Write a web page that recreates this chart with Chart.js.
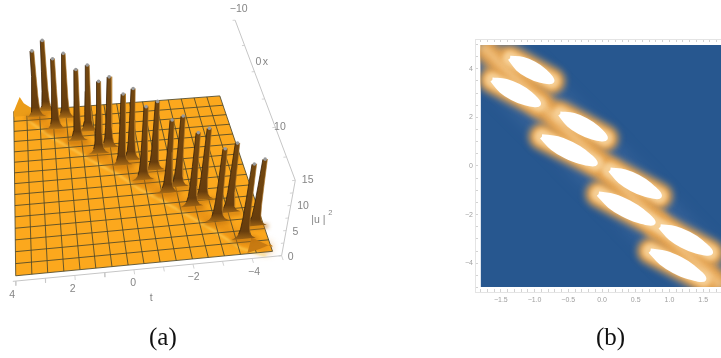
<!DOCTYPE html>
<html>
<head>
<meta charset="utf-8">
<title>Surface and density</title>
<script src="https://cdn.jsdelivr.net/npm/chart.js@4"></script>
<style>
	html, body { margin: 0; padding: 0; background: #fff; overflow: hidden; width: 721px; height: 358px; }
	canvas { position: absolute; top: 0; filter: blur(0.45px); }
	#surface { left: 0; }
	#density { left: 440px; }
	.caption { position: absolute; top: 323px; font: 25px "Liberation Serif", serif; color: #111; }
</style>
</head>
<body>
<canvas id="surface" width="340" height="358"></canvas>
<canvas id="density" width="320" height="358"></canvas>
<div class="caption" style="left:149px">(a)</div>
<div class="caption" style="left:596px">(b)</div>
<script>
// --------------------------- Panel (a) data ---------------------------
const meshT = [4, 3.45, 2.91, 2.36, 1.81, 1.27, 0.72, 0.17, -0.37, -0.92, -1.47, -2.02, -2.56, -3.11, -3.66, -4.2, -4.75];
const meshX = [18, 16.13, 14.27, 12.4, 10.53, 8.67, 6.8, 4.93, 3.07, 1.2, -0.67, -2.53, -4.4, -6.27, -8.13, -10];

// spike positions and heights
const spikeT = [3.06, 2.63, 2.28, 1.84, 1.44, 0.97, 0.66, 0.24, -0.16, -0.55, -0.87, -1.35, -1.67, -2.1, -2.43, -2.87, -3.18, -3.68, -3.92, -4.44];
const spikeX = [-8.7, -9.6, -6.1, -8.0, -3.6, -5.2, -0.96, -1.9, 1.45, 0.72, 4.34, 2.8, 6.9, 6.04, 9.55, 8.56, 12.34, 11.1, 15.6, 13.7];
const spikeTop = [13.1, 14.1, 14, 12.9, 14.2, 13.2, 14.4, 14.1, 14.2, 14.3, 14.6, 13.7, 14.5, 14.1, 14.7, 14.2, 14.4, 13.8, 14.9, 13.3];
const profileZ = [0, 0.4, 1, 2, 4, 8];
const profileHalfT = [0.42, 0.28, 0.2, 0.155, 0.125, 0.1];

const trailT = [3.3, 2.28, 1.44, 0.66, -0.16, -0.87, -1.67, -2.43, -3.18, -3.92, -4.7];
const trailX = [-9.6, -5.7, -3.2, -0.5, 1.9, 4.8, 7.3, 10, 12.8, 16, 17.6];

const farHumpT = [4, 3.85, 3.7, 3.55, 3.3, 3.0];
const farHumpZ = [0, 1.4, 2.8, 1.5, 0.6, 0.2];
const cornerT = [-3.9, -4.3, -4.65, -4.75];
const cornerZ = [0, 0.6, 1.3, 0.9];

const tTicks = [4, 3, 2, 1, 0, -1, -2, -3, -4, -5];
const tLabels = ["4", "", "2", "", "0", "", "\u22122", "", "\u22124", ""];
const xTicks = [-10, -5, 0, 5, 10, 15];
const xLabels = ["\u221210", "", "0", "", "10", ""];
const zTicks = [0, 2.5, 5, 7.5, 10, 12.5, 15];
const zLabels = ["0", "", "5", "", "10", "", "15"];

// --------------------------- Panel (b) data ---------------------------
const blobT = [
	[-1.363, -1.172, -1.007, -0.862, -0.743, -0.934, -1.099, -1.244, -1.363],
	[-1.626, -1.419, -1.238, -1.077, -0.942, -1.149, -1.33, -1.491, -1.626],
	[-0.62, -0.417, -0.24, -0.082, 0.049, -0.154, -0.332, -0.489, -0.62],
	[-0.892, -0.658, -0.45, -0.262, -0.1, -0.334, -0.542, -0.73, -0.892],
	[0.123, 0.341, 0.533, 0.705, 0.851, 0.633, 0.441, 0.269, 0.123],
	[-0.05, 0.188, 0.4, 0.592, 0.758, 0.52, 0.308, 0.116, -0.05],
	[0.866, 1.088, 1.284, 1.459, 1.609, 1.387, 1.192, 1.016, 0.866],
	[0.718, 0.952, 1.16, 1.348, 1.51, 1.276, 1.068, 0.88, 0.718],
];
const blobX = [
	[4.432, 4.389, 4.2, 3.922, 3.498, 3.542, 3.73, 4.009, 4.432],
	[3.539, 3.482, 3.28, 2.988, 2.551, 2.608, 2.81, 3.102, 3.539],
	[2.14, 2.08, 1.875, 1.58, 1.14, 1.2, 1.405, 1.7, 2.14],
	[1.206, 1.122, 0.894, 0.575, 0.111, 0.195, 0.424, 0.742, 1.206],
	[-0.165, -0.243, -0.465, -0.778, -1.235, -1.158, -0.935, -0.623, -0.165],
	[-1.152, -1.257, -1.508, -1.848, -2.333, -2.228, -1.978, -1.637, -1.152],
	[-2.498, -2.576, -2.798, -3.111, -3.568, -3.491, -3.268, -2.956, -2.498],
	[-3.498, -3.596, -3.839, -4.172, -4.65, -4.552, -4.309, -3.976, -3.498],
];
const ridgeT = [-1.8, -1.2, -0.4, 0.42, 1.16, 1.8];
const ridgeX = [5, 3.37, 1.15, -1.19, -3.37, -5];

const densityMajorT = [-1.5, -1, -0.5, 0, 0.5, 1, 1.5];
const densityMinorT = [-1.8, -1.7, -1.6, -1.5, -1.4, -1.3, -1.2, -1.1, -1, -0.9, -0.8, -0.7, -0.6, -0.5, -0.4, -0.3, -0.2, -0.1, 0, 0.1, 0.2, 0.3, 0.4, 0.5, 0.6, 0.7, 0.8, 0.9, 1, 1.1, 1.2, 1.3, 1.4, 1.5, 1.6, 1.7, 1.8];
const densityMajorX = [-4, -2, 0, 2, 4];
const densityMinorX = [-5, -4.5, -4, -3.5, -3, -2.5, -2, -1.5, -1, -0.5, 0, 0.5, 1, 1.5, 2, 2.5, 3, 3.5, 4, 4.5, 5];

// --------------------------- Projection for panel (a) ---------------------------
function project(t, x, z) {
	const u = (4 - t) / 8.75;
	const v = (18 - x) / 28;
	const d = (1.12 * v) / (1 + 0.12 * v);
	let px = (1 - d) * (12 + 263 * u) + d * (10 + 211 * u);
	let py = (1 - d) * (278 - 25 * u) + d * (110 - 16 * u);
	px += ((px - 100) * 0.076 * z) / 15;
	py -= (77 * z) / 15;
	return { x: px, y: py };
}

// blur set per dataset, see dataset.blur
const blurPlugin = {
	id: "blurPlugin",
	beforeDatasetDraw(chart, args) {
		const blur = chart.data.datasets[args.index].blur;
		if (blur) chart.ctx.filter = `blur(${blur}px)`;
	},
	afterDatasetDraw(chart) {
		chart.ctx.filter = "none";
	},
};

const grayText = "#858585";

// --------------------------- Surface chart ---------------------------
const surfaceCanvas = document.getElementById("surface");
const surfaceCtx = surfaceCanvas.getContext("2d");
const surfaceSets = [];
function addSurface(ds) {
	surfaceSets.push({ pointRadius: 0, borderWidth: 0, fill: false, order: -surfaceSets.length, ...ds });
}

// base sheet
const tNear = meshT[0];
const tFar = meshT[meshT.length - 1];
addSurface({
	data: [project(tNear, 18, 0), project(tFar, 18, 0), project(tFar, -10, 0), project(tNear, -10, 0), project(tNear, 18, 0)],
	fill: "shape",
	backgroundColor: "#fca81d",
});

// shaded trails the spikes sit on
const trail = trailT.map((t, i) => project(t, trailX[i], 0));
addSurface({ data: trail, borderColor: "rgba(220,130,16,0.7)", borderWidth: 9, blur: 4 });
addSurface({ data: trail.map((p) => ({ x: p.x - 4, y: p.y + 7 })), borderColor: "rgba(255,214,96,0.75)", borderWidth: 2, blur: 1.2 });

// mesh
meshT.forEach((t) => {
	addSurface({ data: [project(t, 18, 0), project(t, -10, 0)], borderColor: "rgba(78,72,42,0.85)", borderWidth: 1 });
});
meshX.forEach((x) => {
	addSurface({ data: [project(tNear, x, 0), project(tFar, x, 0)], borderColor: "rgba(78,72,42,0.85)", borderWidth: 1 });
});

// humps at the two ends of the ridge
addSurface({
	data: farHumpT.map((t, i) => project(t, -10, farHumpZ[i])).concat([project(3.0, -9, 0), project(4, -9, 0), project(4, -10, 0)]),
	fill: "shape",
	backgroundColor: "#eb9c18",
});
addSurface({
	data: cornerT.map((t, i) => project(t, 17.9, cornerZ[i])).concat([project(-4.75, 17.2, 0), project(-4.2, 15.5, 0), project(-3.9, 17.9, 0)]),
	fill: "shape",
	backgroundColor: "#c77a12",
});

// spikes, far ones first
spikeT
	.map((t, i) => ({ t, x: spikeX[i], top: spikeTop[i] }))
	.sort((a, b) => a.x - b.x)
	.forEach((s) => {
		const zs = profileZ.concat([s.top]);
		const hs = profileHalfT.concat([0.075]);
		const left = zs.map((z, i) => project(s.t + hs[i], s.x, z));
		const right = zs.map((z, i) => project(s.t - hs[i], s.x, z)).reverse();
		const base = project(s.t, s.x, 0);
		const tip = project(s.t, s.x, s.top);
		const grad = surfaceCtx.createLinearGradient(0, base.y + 3, 0, tip.y);
		grad.addColorStop(0, "#d08a1a");
		grad.addColorStop(0.05, "#9c6214");
		grad.addColorStop(0.15, "#673d0d");
		grad.addColorStop(1, "#744810");
		addSurface({
			data: [project(s.t + 0.45, s.x + 0.2, 0), project(s.t - 0.45, s.x + 0.2, 0)],
			borderColor: "rgba(190,112,14,0.75)",
			borderWidth: 4,
			blur: 2,
		});
		addSurface({ data: left.concat(right, [left[0]]), fill: "shape", backgroundColor: grad });
		addSurface({ data: left.slice(2), borderColor: "rgba(56,33,7,0.8)", borderWidth: 1 });
		addSurface({ data: right.slice(0, 5), borderColor: "rgba(176,118,36,0.7)", borderWidth: 0.9 });
		addSurface({ data: [tip], pointRadius: 1.8, pointBackgroundColor: "#9a9a9a", pointBorderWidth: 0 });
	});

// box edges and their ticks
function tickSegments(points, dt, dx, dz) {
	const out = [];
	points.forEach((p) => {
		out.push(project(p[0], p[1], p[2]), project(p[0] + dt, p[1] + dx, p[2] + dz), { x: NaN, y: NaN });
	});
	return out;
}
const boxX = 18.8;
const boxT = -5;
addSurface({ data: [project(4.1, boxX, 0), project(boxT, boxX, 0), project(boxT, boxX, 15), project(boxT, -10, 15)], borderColor: "#c6c6c6", borderWidth: 1 });
addSurface({
	data: tickSegments(tTicks.map((t) => [t, boxX, 0]), 0, 0.7, 0)
		.concat(tickSegments(zTicks.map((z) => [boxT, boxX, z]), 0.1, 0, 0))
		.concat(tickSegments(xTicks.map((x) => [boxT, x, 15]), 0.1, 0, 0)),
	borderColor: "#c8c8c8",
	borderWidth: 0.8,
});

const axisTextPlugin = {
	id: "axisText",
	afterDraw(chart) {
		const { ctx } = chart;
		ctx.save();
		ctx.fillStyle = grayText;
		ctx.font = '10.5px "Liberation Sans", sans-serif';
		ctx.textBaseline = "middle";
		ctx.textAlign = "center";
		tTicks.forEach((t, i) => {
			const p = project(t, boxX, 0);
			ctx.fillText(tLabels[i], p.x, p.y + 11.5);
		});
		const tPos = project(-0.6, boxX, 0);
		ctx.fillText("t", tPos.x, tPos.y + 28);
		xTicks.forEach((x, i) => {
			const p = project(boxT, x, 15);
			ctx.fillText(xLabels[i], p.x + 2, p.y + (x === -10 ? -7 : x === 0 ? -7 : 1));
		});
		const xPos = project(boxT, 0, 15);
		ctx.fillText("x", xPos.x + 9, xPos.y - 7);
		ctx.textAlign = "left";
		zTicks.forEach((z, i) => {
			const p = project(boxT, boxX, z);
			ctx.fillText(zLabels[i], p.x + 3.5, p.y);
		});
		const zPos = project(boxT, boxX, 7.5);
		ctx.fillText("|u |", zPos.x + 20, zPos.y + 1);
		ctx.font = '7.5px "Liberation Sans", sans-serif';
		ctx.fillText("2", zPos.x + 37, zPos.y - 6);
		ctx.restore();
	},
};

new Chart(surfaceCtx, {
	type: "line",
	data: { datasets: surfaceSets },
	plugins: [blurPlugin, axisTextPlugin],
	options: {
		responsive: false,
		animation: false,
		events: [],
		layout: { padding: 0 },
		plugins: { legend: { display: false }, tooltip: { enabled: false } },
		elements: { line: { tension: 0 } },
		scales: {
			x: { type: "linear", display: false, min: 0, max: 340 },
			y: { type: "linear", display: false, min: 0, max: 358, reverse: true },
		},
	},
});

// --------------------------- Density chart ---------------------------
const densitySets = [];
// negative clip keeps the glow inside the image, away from the frame
const imageClip = { left: -5, top: -6, right: 0, bottom: -5 };
function addDensity(ds) {
	densitySets.push({ pointRadius: 0, borderWidth: 0, fill: false, order: -densitySets.length, clip: imageClip, ...ds });
}
function pts(ts, xs) {
	return ts.map((t, i) => ({ x: t, y: xs[i] }));
}

addDensity({ data: [{ x: -1.8, y: 5 }, { x: 1.8, y: 5 }], fill: { value: -5 }, backgroundColor: "#27578f" });
addDensity({ data: pts(ridgeT, ridgeX), borderColor: "rgba(72,112,164,0.55)", borderWidth: 50, blur: 8 });
addDensity({ data: pts(ridgeT, ridgeX), borderColor: "#e4a04c", borderWidth: 24, blur: 4 });
blobT.forEach((ts, i) => {
	const spine = [{ x: ts[0], y: blobX[i][0] }, { x: ts[4], y: blobX[i][4] }];
	addDensity({ data: spine, borderColor: "#e8a550", borderWidth: 26, borderCapStyle: "round", blur: 3.5 });
});
addDensity({ data: pts(ridgeT, ridgeX), borderColor: "rgba(244,204,146,0.75)", borderWidth: 7, blur: 3 });
blobT.forEach((ts, i) => {
	const spine = [{ x: ts[0], y: blobX[i][0] }, { x: ts[4], y: blobX[i][4] }];
	addDensity({ data: spine, borderColor: "#f6cf95", borderWidth: 15, borderCapStyle: "round", blur: 2 });
});
blobT.forEach((ts, i) => {
	addDensity({
		data: pts(ts, blobX[i]),
		fill: "shape",
		backgroundColor: "#ffffff",
		borderColor: "#ffffff",
		borderWidth: 5,
		tension: 0.4,
		blur: 0.6,
	});
});

const tickColor = "#d2d2d2";
const frameColor = "#e4e4e4";
const tickFont = { family: '"Liberation Sans", sans-serif', size: 7 };

new Chart(document.getElementById("density"), {
	type: "line",
	data: { datasets: densitySets },
	plugins: [blurPlugin],
	options: {
		responsive: false,
		animation: false,
		events: [],
		layout: { padding: { left: 0, top: 39, right: 31, bottom: 0 } },
		plugins: { legend: { display: false }, tooltip: { enabled: false } },
		elements: { line: { tension: 0 } },
		scales: {
			x: {
				type: "linear",
				min: -1.883,
				max: 1.883,
				afterBuildTicks: (s) => {
					s.ticks = densityMinorT.map((v) => ({ value: v }));
				},
				afterFit: (s) => {
					s.height = 66;
				},
				border: { color: frameColor },
				grid: { drawOnChartArea: false, tickLength: -3, tickColor },
				ticks: {
					autoSkip: false,
					maxRotation: 0,
					padding: 7,
					color: "#a0a0a0",
					font: tickFont,
					callback: (v) => (densityMajorT.includes(v) ? v.toFixed(1).replace("-", "\u2212") : ""),
				},
			},
			xTop: {
				type: "linear",
				position: "top",
				min: -1.883,
				max: 1.883,
				afterBuildTicks: (s) => {
					s.ticks = densityMinorT.map((v) => ({ value: v }));
				},
				afterFit: (s) => {
					s.height = 0;
				},
				border: { color: frameColor },
				grid: { drawOnChartArea: false, tickLength: -3, tickColor },
				ticks: { display: false },
			},
			y: {
				type: "linear",
				min: -5.185,
				max: 5.226,
				afterBuildTicks: (s) => {
					s.ticks = densityMinorX.map((v) => ({ value: v }));
				},
				afterFit: (s) => {
					s.width = 35;
				},
				border: { color: frameColor },
				grid: { drawOnChartArea: false, tickLength: -3, tickColor },
				ticks: {
					autoSkip: false,
					padding: 5,
					color: "#a0a0a0",
					font: tickFont,
					callback: (v) => (densityMajorX.includes(v) ? String(v).replace("-", "\u2212") : ""),
				},
			},
		},
	},
});
</script>
</body>
</html>
